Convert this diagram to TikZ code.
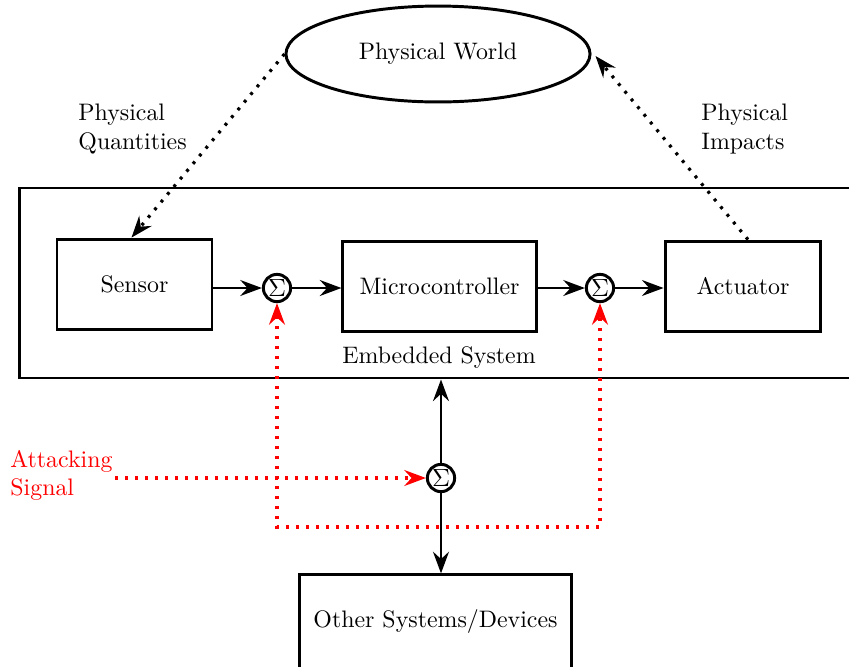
\documentclass[tikz,border=0pt]{standalone}
\usetikzlibrary{shapes.geometric,arrows.meta,calc}
\definecolor{attack}{RGB}{255,0,0}
\tikzset{sharp/.tip={Stealth[length=9.5pt,width=7pt,inset=3.2pt]}}
\begin{document}
\begin{tikzpicture}[x=0.44pt,y=-0.44pt,
  every node/.style={font=\fontsize{10.5pt}{12.4pt}\selectfont},
  block/.style={draw,line width=1.3pt,minimum height=40pt,inner sep=0pt},
  sumnode/.style={draw,circle,line width=1.3pt,minimum size=12pt,inner sep=0pt},
  flow/.style={line width=1.2pt,-{sharp}},
  dotline/.style={line width=1.4pt,dash pattern=on 1.3pt off 3.1pt},
  attline/.style={dotline,draw=attack}
]
\clip (0,0) rectangle (849,666);
\useasboundingbox (0,0) rectangle (849,666);

% physical world
\node[ellipse,draw,line width=1.3pt,minimum width=133.8pt,minimum height=42.2pt,inner sep=0pt]
  (world) at (438,54) {Physical World};

% embedded system frame
\node[draw,line width=1.3pt,minimum width=378.8pt,minimum height=83.6pt,inner sep=0pt]
  (emb) at (449.5,283) {};
\node (emblabel) at (439,358) {Embedded System};

% blocks
\node[block,minimum width=68.2pt] (sensor) at (134.5,284.5) {Sensor};
\node[sumnode] (s1) at (277,288) {$\Sigma$};
\node[block,minimum width=85pt] (micro) at (439.5,286.5) {Microcontroller};
\node[sumnode] (s2) at (600,288) {$\Sigma$};
\node[block,minimum width=68.6pt] (act) at (743,286.5) {Actuator};

\node[sumnode] (s3) at (441,478) {$\Sigma$};
\node[block,minimum width=120pt,minimum height=41.5pt] (other) at (435.5,622) {Other Systems/Devices};

% side labels
\node[align=left,anchor=west,inner sep=0pt] (pq) at (78,129) {Physical\\Quantities};
\node[align=left,anchor=west,inner sep=0pt] (pi) at (701,129) {Physical\\Impacts};
\node[align=left,anchor=west,inner sep=0pt,text=attack] (att) at (10,475) {Attacking\\Signal};
\coordinate (attstart) at (115,478);

% signal chain
\draw[flow] (sensor.east |- s1) -- (s1.west);
\draw[flow] (s1.east) -- (micro.west |- s1);
\draw[flow] (micro.east |- s2) -- (s2.west);
\draw[flow] (s2.east) -- (act.west |- s2);

% links to the physical world
\draw[dotline,-{sharp}] (world.west) -- ($(sensor.north)+(-3,0)$);
\draw[dotline,-{sharp}] ($(act.north)+(5,0)$) -- ($(world.east)+(4,2)$);

% external interface
\draw[flow] (s3.north) -- (s3 |- emb.south);
\draw[flow] (s3.south) -- (other.north -| s3);

% attack injection
\draw[attline,-{sharp}] (attstart) -- (s3.west);
\draw[attline,{sharp}-{sharp}]
  (s1.south) -- (s1 |- 0,527) -- (s2 |- 0,527) -- (s2.south);
\end{tikzpicture}
\end{document}
